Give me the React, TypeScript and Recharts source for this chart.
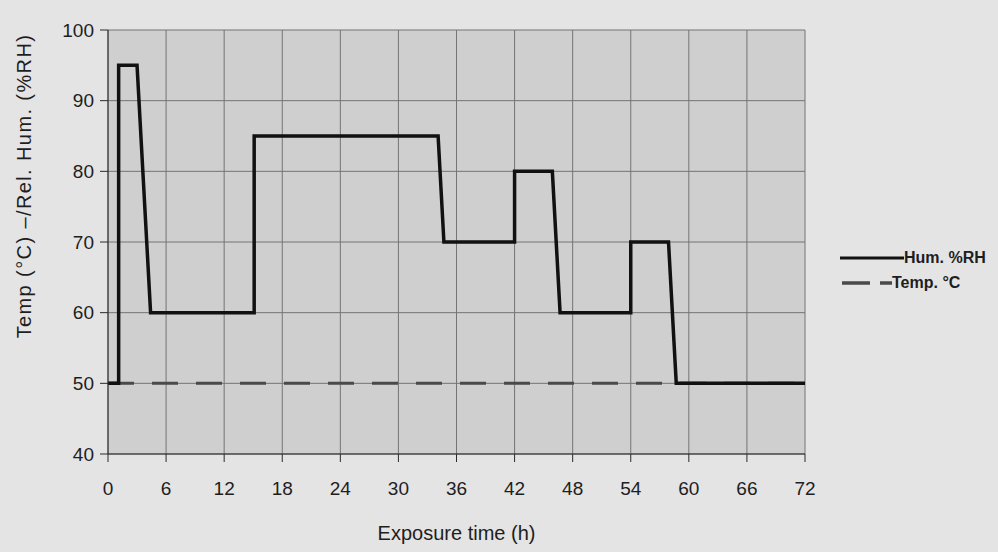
import { CartesianGrid, Line, LineChart, XAxis, YAxis } from "recharts";
import type { CSSProperties } from "react";

// hours / values
const humTime = [0, 1.1, 1.1, 3, 4.4, 15.1, 15.1, 34.1, 34.7, 42, 42, 45.9, 46.7, 54, 54, 57.9, 58.7, 72];
const humValue = [50, 50, 95, 95, 60, 60, 85, 85, 70, 70, 80, 80, 60, 60, 70, 70, 50, 50];
const tempTime = [0, 72];
const tempValue = [50, 50];

const xTicks = [0, 6, 12, 18, 24, 30, 36, 42, 48, 54, 60, 66, 72];
const yTicks = [40, 50, 60, 70, 80, 90, 100];

const humData = humTime.map((t, i) => ({ t, v: humValue[i] }));
const tempData = tempTime.map((t, i) => ({ t, v: tempValue[i] }));

const COLORS = {
  page: "#e4e4e4",
  plot: "#cfcfcf",
  grid: "#747474",
  axis: "#2a2a2a",
  text: "#1e1e1e",
  hum: "#111111",
  temp: "#4a4a4a",
} as const;

const FONT = "'Liberation Sans', Arial, sans-serif";

const tickStyle = { fill: COLORS.text, fontSize: 19, fontFamily: FONT };

const legendRow: CSSProperties = {
  display: "flex",
  alignItems: "center",
  height: 25,
  fontFamily: FONT,
  fontSize: 16,
  fontWeight: 700,
  color: COLORS.text,
};

const YAxisTitle = () => (
  <text
    x={0}
    y={0}
    transform="translate(31 186) rotate(-90)"
    textAnchor="middle"
    fill={COLORS.text}
    fontSize={20}
    fontFamily={FONT}
    letterSpacing={1.4}
  >
    Temp (°C) –/Rel. Hum. (%RH)
  </text>
);

export default function App() {
  return (
    <div
      style={{
        position: "absolute",
        left: 0,
        top: 0,
        width: 998,
        height: 552,
        background: COLORS.page,
      }}
    >
      <LineChart
        width={998}
        height={552}
        margin={{ top: 30, right: 193, bottom: 0, left: 0 }}
      >
        <CartesianGrid stroke={COLORS.grid} fill={COLORS.plot} strokeWidth={1} />
        <XAxis
          type="number"
          dataKey="t"
          domain={[0, 72]}
          ticks={xTicks}
          interval={0}
          height={98}
          tick={tickStyle}
          tickSize={8}
          tickMargin={20}
          stroke={COLORS.axis}
          label={{
            value: "Exposure time (h)",
            position: "insideBottom",
            offset: 12,
            style: { fill: COLORS.text, fontSize: 20, fontFamily: FONT },
          }}
        />
        <YAxis
          type="number"
          domain={[40, 100]}
          ticks={yTicks}
          interval={0}
          width={108}
          tick={tickStyle}
          tickSize={8}
          tickMargin={6}
          stroke={COLORS.axis}
          label={{ content: YAxisTitle }}
        />
        <Line
          data={tempData}
          dataKey="v"
          type="linear"
          stroke={COLORS.temp}
          strokeWidth={3}
          strokeDasharray="26 18"
          dot={false}
          isAnimationActive={false}
        />
        <Line
          data={humData}
          dataKey="v"
          type="linear"
          stroke={COLORS.hum}
          strokeWidth={3.5}
          dot={false}
          isAnimationActive={false}
        />
      </LineChart>
      <div style={{ position: "absolute", left: 840, top: 245 }}>
        <div style={legendRow}>
          <svg width={64} height={6}>
            <line x1={0} y1={3} x2={64} y2={3} stroke={COLORS.hum} strokeWidth={3} />
          </svg>
          <span>Hum. %RH</span>
        </div>
        <div style={legendRow}>
          <svg width={52} height={6}>
            <line x1={2} y1={3} x2={30} y2={3} stroke={COLORS.temp} strokeWidth={3.5} />
            <line x1={40} y1={3} x2={52} y2={3} stroke={COLORS.temp} strokeWidth={3.5} />
          </svg>
          <span>Temp. °C</span>
        </div>
      </div>
    </div>
  );
}
